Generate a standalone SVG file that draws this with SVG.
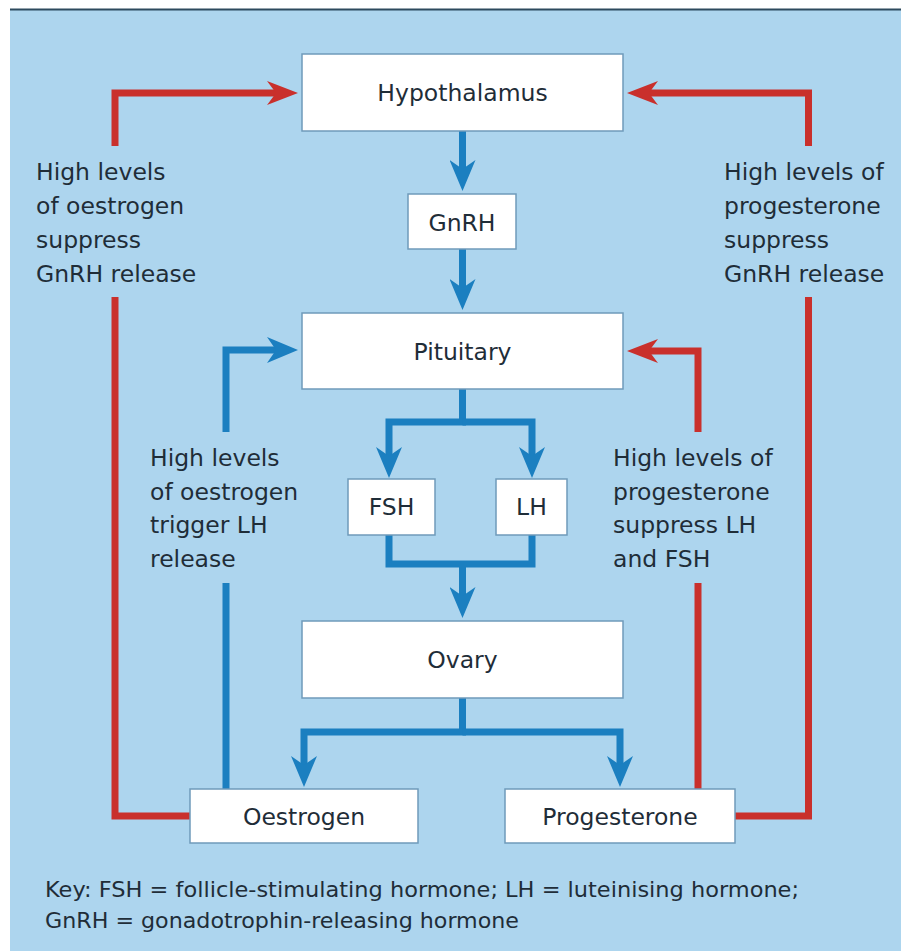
<svg xmlns="http://www.w3.org/2000/svg" width="901" height="951" viewBox="0 0 901 951">
<style>
  .box { fill: #ffffff; stroke: #6f9aba; stroke-width: 1.5; }
  .lbl { font-family: "DejaVu Sans", "Liberation Sans", sans-serif; font-size: 23.5px; fill: #1f2d38; text-anchor: middle; }
  .note { font-family: "DejaVu Sans", "Liberation Sans", sans-serif; font-size: 23.5px; fill: #1f2d38; }
  .key { font-family: "DejaVu Sans", "Liberation Sans", sans-serif; font-size: 20.5px; fill: #1f2d38; }
  .blue { fill: none; stroke: #1b7fc0; stroke-width: 7; stroke-linejoin: miter; }
  .red { fill: none; stroke: #c9302c; stroke-width: 7; stroke-linejoin: miter; }
</style>
<defs>
  <marker id="ab" markerUnits="userSpaceOnUse" viewBox="0 0 31 26" refX="13" refY="13" markerWidth="31" markerHeight="26" orient="auto">
    <path d="M0,0 L31,13 L0,26 L9,13 Z" fill="#1b7fc0"/>
  </marker>
  <marker id="ar" markerUnits="userSpaceOnUse" viewBox="0 0 31 24" refX="13" refY="12" markerWidth="31" markerHeight="24" orient="auto">
    <path d="M0,0 L31,12 L0,24 L9,12 Z" fill="#c9302c"/>
  </marker>
</defs>

<rect x="10" y="10" width="891" height="941" fill="#add5ee"/>
<line x1="10" y1="9.5" x2="901" y2="9.5" stroke="#2d4a5e" stroke-width="2"/>

<g id="connectors">
  <!-- blue main flow -->
  <path class="blue" d="M462.5,131 V173" marker-end="url(#ab)"/>
  <path class="blue" d="M462.5,249 V292" marker-end="url(#ab)"/>
  <path class="blue" d="M462.5,389 V422 H389 V460" marker-end="url(#ab)"/>
  <path class="blue" d="M462.5,422 H532 V460" marker-end="url(#ab)"/>
  <path class="blue" d="M389,535 V564 H532 V535"/>
  <path class="blue" d="M462.5,564 V600" marker-end="url(#ab)"/>
  <path class="blue" d="M462.5,698 V732 H304 V769" marker-end="url(#ab)"/>
  <path class="blue" d="M462.5,732 H620 V769" marker-end="url(#ab)"/>
  <!-- oestrogen triggers LH -->
  <path class="blue" d="M226,789 V583"/>
  <path class="blue" d="M226,432 V350 H280" marker-end="url(#ab)"/>
  <!-- red feedback: oestrogen to hypothalamus -->
  <path class="red" d="M190,816 H115 V297"/>
  <path class="red" d="M115,146 V93 H280" marker-end="url(#ar)"/>
  <!-- red feedback: progesterone to hypothalamus -->
  <path class="red" d="M735,816 H808.5 V297"/>
  <path class="red" d="M808.5,146 V93 H645" marker-end="url(#ar)"/>
  <!-- red feedback: progesterone to pituitary -->
  <path class="red" d="M698,789 V583"/>
  <path class="red" d="M698,432 V351 H645" marker-end="url(#ar)"/>
</g>

<g id="hypothalamus">
  <rect class="box" x="302" y="54" width="321" height="77"/>
  <text class="lbl" x="462.5" y="101">Hypothalamus</text>
</g>
<g id="gnrh">
  <rect class="box" x="408" y="194" width="108" height="55"/>
  <text class="lbl" x="462" y="231">GnRH</text>
</g>
<g id="pituitary">
  <rect class="box" x="302" y="313" width="321" height="76"/>
  <text class="lbl" x="462.5" y="360">Pituitary</text>
</g>
<g id="fsh">
  <rect class="box" x="348" y="479" width="87" height="56"/>
  <text class="lbl" x="391.5" y="515">FSH</text>
</g>
<g id="lh">
  <rect class="box" x="496" y="479" width="71" height="56"/>
  <text class="lbl" x="531.5" y="515">LH</text>
</g>
<g id="ovary">
  <rect class="box" x="302" y="621" width="321" height="77"/>
  <text class="lbl" x="462.5" y="668">Ovary</text>
</g>
<g id="oestrogen">
  <rect class="box" x="190" y="789" width="228" height="54"/>
  <text class="lbl" x="304" y="825">Oestrogen</text>
</g>
<g id="progesterone">
  <rect class="box" x="505" y="789" width="230" height="54"/>
  <text class="lbl" x="620" y="825">Progesterone</text>
</g>

<g id="note-oestrogen-gnrh">
  <text class="note" x="36" y="180">High levels</text>
  <text class="note" x="36" y="214">of oestrogen</text>
  <text class="note" x="36" y="248">suppress</text>
  <text class="note" x="36" y="282">GnRH release</text>
</g>
<g id="note-progesterone-gnrh">
  <text class="note" x="724" y="180">High levels of</text>
  <text class="note" x="724" y="214">progesterone</text>
  <text class="note" x="724" y="248">suppress</text>
  <text class="note" x="724" y="282">GnRH release</text>
</g>
<g id="note-oestrogen-lh">
  <text class="note" x="150" y="466">High levels</text>
  <text class="note" x="150" y="499.5">of oestrogen</text>
  <text class="note" x="150" y="533">trigger LH</text>
  <text class="note" x="150" y="567">release</text>
</g>
<g id="note-progesterone-lh">
  <text class="note" x="613" y="466">High levels of</text>
  <text class="note" x="613" y="499.5">progesterone</text>
  <text class="note" x="613" y="533">suppress LH</text>
  <text class="note" x="613" y="567">and FSH</text>
</g>

<g id="key">
  <text class="key" x="45" y="897" textLength="754" lengthAdjust="spacingAndGlyphs">Key: FSH = follicle-stimulating hormone; LH = luteinising hormone;</text>
  <text class="key" x="45" y="928" textLength="474" lengthAdjust="spacingAndGlyphs">GnRH = gonadotrophin-releasing hormone</text>
</g>
</svg>
